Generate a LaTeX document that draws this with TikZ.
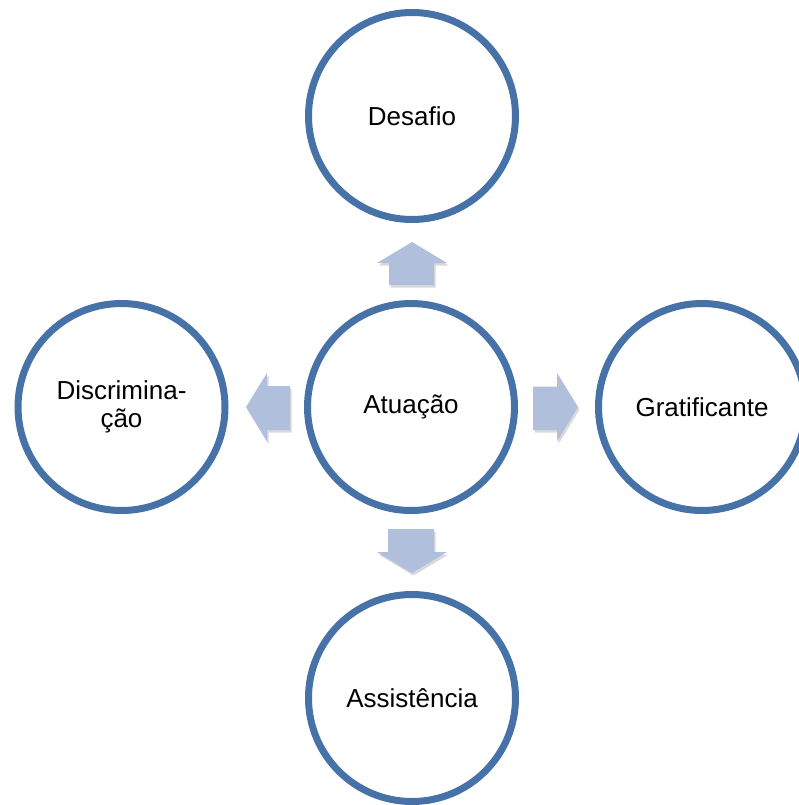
\documentclass[tikz,border=0pt]{standalone}
\usepackage{fontspec}
\setmainfont{Liberation Sans}
\usetikzlibrary{shadows}
\definecolor{ring}{RGB}{70,114,168}
\definecolor{blockarrow}{RGB}{176,192,220}
\begin{document}
\begin{tikzpicture}[x=1pt,y=-1pt,
  bubble/.style={circle, draw=ring, line width=7pt, fill=white, minimum size=207pt,
    inner sep=0pt, align=center, font=\fontsize{26}{28}\selectfont,
    drop shadow={opacity=0.18, shadow xshift=1pt, shadow yshift=-3pt}},
  blk/.style={fill=blockarrow, draw=none,
    drop shadow={opacity=0.3, shadow xshift=1.5pt, shadow yshift=-2.5pt}}]
\useasboundingbox (0,0) rectangle (798,805);
% block arrows
\path[blk] (389,285)--(389,263)--(377,263)--(412,242)--(447,263)--(434,263)--(434,285)--cycle;
\path[blk] (290,386)--(267,386)--(267,373)--(246,407)--(267,441.5)--(267,430)--(290,430)--cycle;
\path[blk] (533,386.5)--(557,386.5)--(557,373)--(578,407)--(557,441.5)--(557,430)--(533,430)--cycle;
\path[blk] (388,529)--(434,529)--(434,552)--(447,552)--(412,573)--(377,552)--(388,552)--cycle;
% circles
\node[bubble] (c) at (411,407) {Atuação};
\node[bubble] (t) at (412,116) {Desafio};
\node[bubble] (l) at (121.5,407) {Discrimina-\\ção};
\node[bubble] (r) at (702,407) {Gratificante};
\node[bubble] (b) at (412,698) {Assistência};
\end{tikzpicture}
\end{document}
